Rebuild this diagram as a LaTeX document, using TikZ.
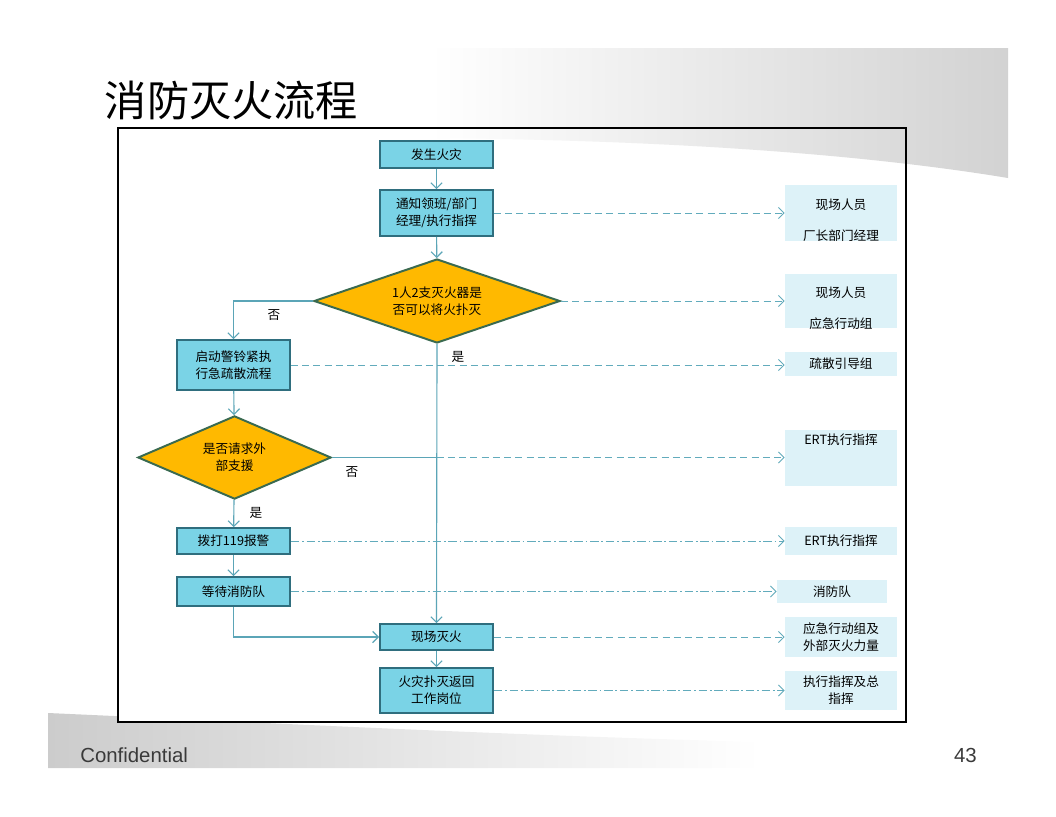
\documentclass[tikz,border=0pt]{standalone}
\usepackage{fontspec}
\setmainfont{Noto Sans CJK SC}
\newfontfamily\footfont{Liberation Sans}
\usetikzlibrary{arrows.meta, shapes.geometric}
\definecolor{flowcyan}{HTML}{7AD3E6}
\definecolor{flowedge}{HTML}{2F6E7E}
\definecolor{flowamber}{HTML}{FFB900}
\definecolor{flowgreen}{HTML}{3A6A50}
\definecolor{flowline}{HTML}{5BA5B7}
\definecolor{flowdash}{HTML}{62ABBC}
\definecolor{flowpale}{HTML}{DDF2F8}
\definecolor{footgray}{HTML}{3A3A3A}

\begin{document}
\begin{tikzpicture}[x=0.025cm, y=-0.025cm,
  stepbox/.style={draw=flowedge, line width=1.2pt, fill=flowcyan,
    minimum width=2.83cm, align=center, inner sep=1pt,
    font=\fontsize{9}{12}\selectfont},
  decide/.style={diamond, draw=flowgreen, line width=1.4pt, fill=flowamber,
    align=center, inner sep=0pt, font=\fontsize{9}{12}\selectfont},
  rolebox/.style={fill=flowpale, minimum width=2.8cm, align=center,
    inner sep=2pt, font=\fontsize{9}{12}\selectfont},
  flow/.style={draw=flowline, line width=0.8pt,
    -{Straight Barb[length=4pt,width=8pt]}},
  notify/.style={flow, draw=flowdash, line width=0.7pt, dash pattern=on 5pt off 3pt},
  notifydot/.style={notify, dash pattern=on 6pt off 2pt on 1.2pt off 2pt},
  lbl/.style={font=\fontsize{9}{11}\selectfont}
]
  \useasboundingbox (0,0) rectangle (1056,816);

  % Slide background
  \shade[left color=gray!40, right color=white]
    (48,713) .. controls (250,722) and (500,735) .. (760,742)
    -- (760,768) -- (48,768) -- cycle;
  \fill[white] (118,128) rectangle (906,722);
  \shade[left color=white, middle color=gray!28, right color=gray!35]
    (430,48) -- (1008,48) -- (1008,178)
    .. controls (850,152) and (650,140) .. (430,138) -- cycle;

  % Title and frame
  \node[font=\fontsize{30}{34}\selectfont, anchor=west] (title) at (100,100) {消防灭火流程};
  \draw[line width=0.8pt] (118,128) rectangle (906,722);

  % Main flow
  \node[stepbox, minimum height=0.675cm] (fire) at (436.5,154.5) {发生火灾};
  \node[stepbox, minimum height=1.15cm] (notify) at (436.5,213) {通知领班/部门\\经理/执行指挥};
  \node[decide, minimum width=6.15cm, minimum height=2.1cm, aspect=3] (dec1) at (437,301)
    {1人2支灭火器是\\否可以将火扑灭};
  \node[stepbox, minimum height=1.25cm] (alarm) at (233.5,365) {启动警铃紧执\\行急疏散流程};
  \node[decide, minimum width=4.83cm, minimum height=2.08cm, aspect=2.3] (dec2) at (234.5,457.5)
    {是否请求外\\部支援};
  \node[stepbox, minimum height=0.65cm] (call) at (233.5,541) {拨打119报警};
  \node[stepbox, minimum height=0.725cm] (wait) at (233.5,591.5) {等待消防队};
  \node[stepbox, minimum height=0.65cm] (fight) at (436.5,637) {现场灭火};
  \node[stepbox, minimum height=1.125cm] (back) at (436.5,690.5) {火灾扑灭返回\\工作岗位};

  % Roles
  \node[rolebox, minimum height=1.4cm] (r1) at (841,213) {};
  \node[lbl, align=center] (r1t) at (841,220) {现场人员\\[11pt]厂长部门经理};
  \node[rolebox, minimum height=1.35cm] (r2) at (841,301) {};
  \node[lbl, align=center] (r2t) at (841,308) {现场人员\\[11pt]应急行动组};
  \node[rolebox, minimum height=0.6cm] (r3) at (841,364) {疏散引导组};
  \node[rolebox, text height=8pt, text depth=27.6pt] (r4) at (841,458) {ERT执行指挥};
  \node[rolebox, minimum height=0.7cm] (r5) at (841,541) {ERT执行指挥};
  \node[rolebox, minimum width=2.75cm, minimum height=0.575cm] (r6) at (832,591.5) {消防队};
  \node[rolebox, minimum height=1cm] (r7) at (841,637) {应急行动组及\\外部灭火力量};
  \node[rolebox, minimum height=0.975cm] (r8) at (841,690.5) {执行指挥及总\\指挥};

  % Connectors
  \draw[flow] (fire) -- (notify);
  \draw[flow] (notify) -- (dec1);
  \draw[flow] (dec1.west) -| (alarm.north);
  \draw[flow] (dec1.south) -- (fight.north);
  \draw[flow] (alarm) -- (dec2);
  \draw[flow] (dec2) -- (call);
  \draw[flow] (call) -- (wait);
  \draw[flow] (wait.south) |- (fight.west);
  \draw[flow] (fight) -- (back);

  \draw[notify] (notify.east) -- (r1.west);
  \draw[notify] (dec1.east) -- (r2.west);
  \draw[notify] (alarm.east) -- (alarm.east -| r3.west);
  \draw[draw=flowline, line width=0.8pt] (dec2.east) -- (dec2.east -| fight.north);
  \draw[notify] (dec2.east -| fight.north) -- (dec2.east -| r4.west);
  \draw[notifydot] (call.east) -- (r5.west);
  \draw[notifydot] (wait.east) -- (r6.west);
  \draw[notify] (fight.east) -- (r7.west);
  \draw[notifydot] (back.east) -- (r8.west);

  % Branch labels
  \node[lbl] (no1) at (274,315) {否};
  \node[lbl] (yes1) at (458,357) {是};
  \node[lbl] (no2) at (352,472) {否};
  \node[lbl] (yes2) at (256,513) {是};

  % Footer
  \node[font=\footfont\fontsize{14.5}{16}\selectfont, anchor=base west, inner sep=0pt, footgray] (conf) at (80,762) {Confidential};
  \node[font=\footfont\fontsize{14.5}{16}\selectfont, anchor=base east, inner sep=0pt, footgray] (page) at (977,762) {43};
\end{tikzpicture}
\end{document}
